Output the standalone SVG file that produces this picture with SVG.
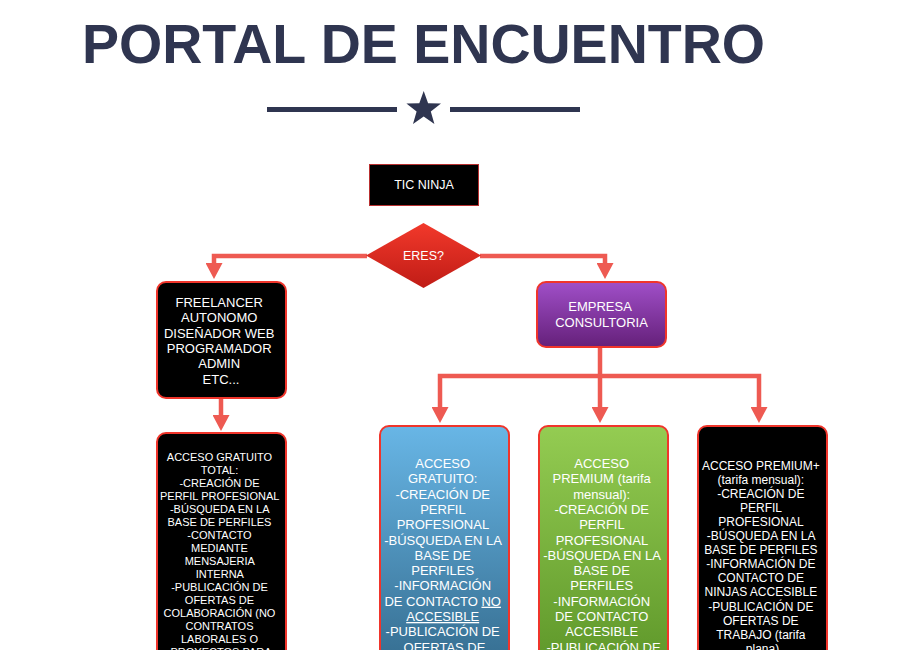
<svg xmlns="http://www.w3.org/2000/svg" width="900" height="650" viewBox="0 0 900 650">
<defs>
<style>
.title{font-family:"Liberation Sans",Arial,sans-serif;font-weight:bold;fill:#2f3550}
.t{font-family:"Liberation Sans",Arial,sans-serif;fill:#ffffff;text-anchor:middle}
.conn{fill:none;stroke:#ee5a52;stroke-width:4.5;stroke-linejoin:miter;marker-end:url(#arr)}
.box{stroke:#f0352b;stroke-width:2}
</style>
<marker id="arr" markerUnits="userSpaceOnUse" viewBox="0 0 16 17" markerWidth="16" markerHeight="17" refX="0" refY="8.5" orient="auto">
<path d="M0,0 L16,8.5 L0,17 z" fill="#ee5a52"/>
</marker>
<linearGradient id="gDia" x1="0" y1="0" x2="0" y2="1">
<stop offset="0" stop-color="#f2392b"/>
<stop offset="1" stop-color="#c01c16"/>
</linearGradient>
<linearGradient id="gPur" x1="0" y1="0" x2="0" y2="1">
<stop offset="0" stop-color="#a04fc8"/>
<stop offset="1" stop-color="#65207a"/>
</linearGradient>
<linearGradient id="gBlue" x1="0" y1="0" x2="0" y2="1">
<stop offset="0" stop-color="#68b6e6"/>
<stop offset="1" stop-color="#336a8c"/>
</linearGradient>
<linearGradient id="gGreen" x1="0" y1="0" x2="0" y2="1">
<stop offset="0" stop-color="#94cc52"/>
<stop offset="1" stop-color="#5c9528"/>
</linearGradient>
</defs>
<rect width="900" height="650" fill="#ffffff"/>

<g id="header">
<text class="title" x="423.5" y="63" font-size="56" text-anchor="middle" textLength="683" lengthAdjust="spacingAndGlyphs">PORTAL DE ENCUENTRO</text>
<rect x="267" y="107" width="130" height="5" fill="#2f3550"/>
<rect x="450" y="107" width="130" height="5" fill="#2f3550"/>
<polygon points="423.7,91 428.1,103.2 441.0,103.6 430.8,111.5 434.4,123.9 423.7,116.6 413.0,123.9 416.6,111.5 406.4,103.6 419.3,103.2" fill="#2f3550"/>
</g>

<g id="connectors">
<polyline class="conn" points="367,256 214,256 214,263"/>
<polyline class="conn" points="480,256 605,256 605,263"/>
<polyline class="conn" points="221,398 221,415"/>
<polyline class="conn" points="600,347 600,407"/>
<polyline class="conn" points="600,376 440,376 440,407"/>
<polyline class="conn" points="600,376 759,376 759,407"/>
</g>

<g id="tic-ninja">
<rect x="369.5" y="164.5" width="109" height="41" fill="#000" stroke="#b83030" stroke-width="1"/>
<text class="t" x="424" y="189" font-size="12.5">TIC NINJA</text>
</g>

<g id="eres">
<polygon points="423.5,223 481,255.5 423.5,288 366,255.5" fill="url(#gDia)"/>
<text class="t" x="423.5" y="260" font-size="12.5">ERES?</text>
</g>

<g id="freelancer">
<rect class="box" x="157" y="282" width="129" height="116" rx="9" fill="#000"/>
<text class="t" font-size="13">
<tspan x="221" y="307">FREELANCER</tspan>
<tspan x="221" y="322.3">AUTONOMO</tspan>
<tspan x="221" y="337.6">DISEÑADOR WEB</tspan>
<tspan x="221" y="352.9">PROGRAMADOR</tspan>
<tspan x="221" y="368.2">ADMIN</tspan>
<tspan x="221" y="383.5">ETC...</tspan>
</text>
</g>

<g id="empresa">
<rect class="box" x="537" y="282" width="129" height="65" rx="9" fill="url(#gPur)"/>
<text class="t" font-size="13">
<tspan x="601.5" y="311">EMPRESA</tspan>
<tspan x="601.5" y="327">CONSULTORIA</tspan>
</text>
</g>

<g id="freelancer-gratuito">
<rect class="box" x="157" y="433" width="129" height="240" rx="9" fill="#000"/>
<text class="t" font-size="11">
<tspan x="221" y="460.7">ACCESO GRATUITO</tspan>
<tspan x="221" y="474">TOTAL:</tspan>
<tspan x="221" y="487">-CREACIÓN DE</tspan>
<tspan x="221" y="500">PERFIL PROFESIONAL</tspan>
<tspan x="221" y="513">-BÚSQUEDA EN LA</tspan>
<tspan x="221" y="526">BASE DE PERFILES</tspan>
<tspan x="221" y="539">-CONTACTO</tspan>
<tspan x="221" y="552">MEDIANTE</tspan>
<tspan x="221" y="565">MENSAJERIA</tspan>
<tspan x="221" y="578">INTERNA</tspan>
<tspan x="221" y="591">-PUBLICACIÓN DE</tspan>
<tspan x="221" y="604">OFERTAS DE</tspan>
<tspan x="221" y="617">COLABORACIÓN (NO</tspan>
<tspan x="221" y="630">CONTRATOS</tspan>
<tspan x="221" y="643">LABORALES O</tspan>
<tspan x="221" y="656">PROYECTOS PARA</tspan>
</text>
</g>

<g id="empresa-gratuito">
<rect class="box" x="380" y="426" width="129" height="250" rx="9" fill="url(#gBlue)"/>
<text class="t" font-size="13">
<tspan x="444.5" y="468">ACCESO</tspan>
<tspan x="444.5" y="483.3">GRATUITO:</tspan>
<tspan x="444.5" y="498.6">-CREACIÓN DE</tspan>
<tspan x="444.5" y="513.9">PERFIL</tspan>
<tspan x="444.5" y="529.2">PROFESIONAL</tspan>
<tspan x="444.5" y="544.5">-BÚSQUEDA EN LA</tspan>
<tspan x="444.5" y="559.8">BASE DE</tspan>
<tspan x="444.5" y="575.1">PERFILES</tspan>
<tspan x="444.5" y="590.4">-INFORMACIÓN</tspan>
<tspan x="444.5" y="605.7">DE CONTACTO <tspan text-decoration="underline">NO</tspan></tspan>
<tspan x="444.5" y="621" text-decoration="underline">ACCESIBLE</tspan>
<tspan x="444.5" y="636.3">-PUBLICACIÓN DE</tspan>
<tspan x="444.5" y="651.6">OFERTAS DE</tspan>
</text>
</g>

<g id="empresa-premium">
<rect class="box" x="539" y="426" width="129" height="250" rx="9" fill="url(#gGreen)"/>
<text class="t" font-size="13">
<tspan x="603.5" y="468">ACCESO</tspan>
<tspan x="603.5" y="483.3">PREMIUM (tarifa</tspan>
<tspan x="603.5" y="498.6">mensual):</tspan>
<tspan x="603.5" y="513.9">-CREACIÓN DE</tspan>
<tspan x="603.5" y="529.2">PERFIL</tspan>
<tspan x="603.5" y="544.5">PROFESIONAL</tspan>
<tspan x="603.5" y="559.8">-BÚSQUEDA EN LA</tspan>
<tspan x="603.5" y="575.1">BASE DE</tspan>
<tspan x="603.5" y="590.4">PERFILES</tspan>
<tspan x="603.5" y="605.7">-INFORMACIÓN</tspan>
<tspan x="603.5" y="621">DE CONTACTO</tspan>
<tspan x="603.5" y="636.3">ACCESIBLE</tspan>
<tspan x="603.5" y="651.6">-PUBLICACIÓN DE</tspan>
</text>
</g>

<g id="empresa-premium-plus">
<rect class="box" x="698" y="426" width="129" height="250" rx="9" fill="#000"/>
<text class="t" font-size="12">
<tspan x="762.5" y="469.8">ACCESO PREMIUM+</tspan>
<tspan x="762.5" y="484">(tarifa mensual):</tspan>
<tspan x="762.5" y="497.8">-CREACIÓN DE</tspan>
<tspan x="762.5" y="511.8">PERFIL</tspan>
<tspan x="762.5" y="525.9">PROFESIONAL</tspan>
<tspan x="762.5" y="540">-BÚSQUEDA EN LA</tspan>
<tspan x="762.5" y="554.1">BASE DE PERFILES</tspan>
<tspan x="762.5" y="568.2">-INFORMACIÓN DE</tspan>
<tspan x="762.5" y="582.3">CONTACTO DE</tspan>
<tspan x="762.5" y="596.4">NINJAS ACCESIBLE</tspan>
<tspan x="762.5" y="610.5">-PUBLICACIÓN DE</tspan>
<tspan x="762.5" y="624.6">OFERTAS DE</tspan>
<tspan x="762.5" y="638.7">TRABAJO (tarifa</tspan>
<tspan x="762.5" y="652.8">plana)</tspan>
</text>
</g>
</svg>
